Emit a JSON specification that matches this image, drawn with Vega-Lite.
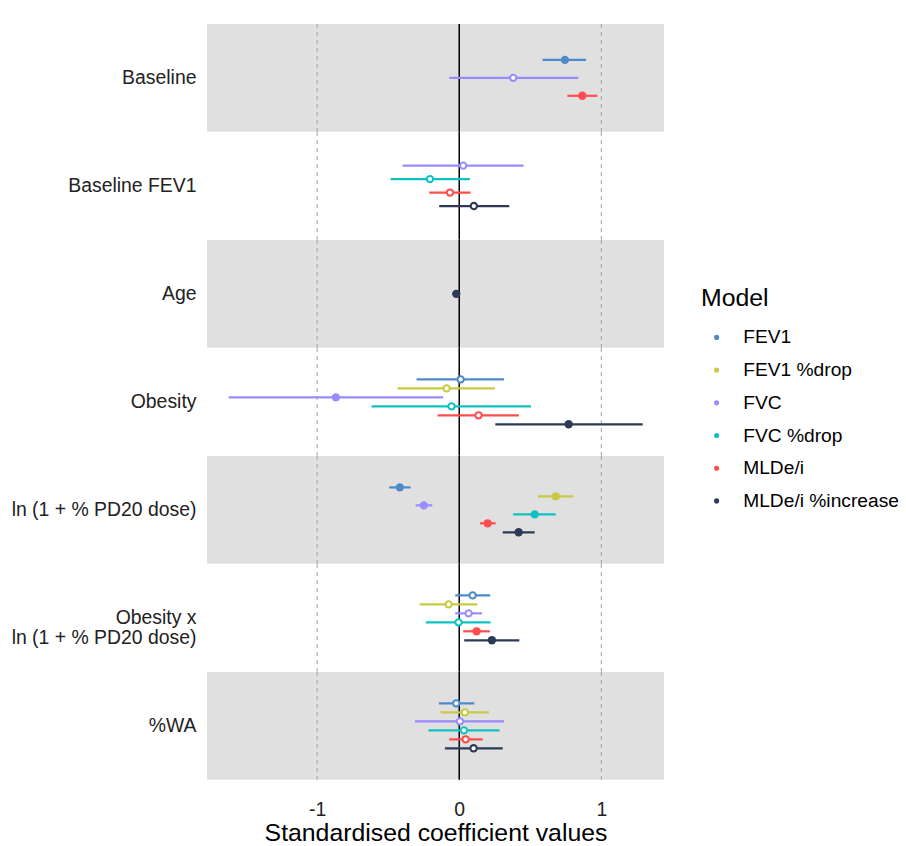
{
  "$schema": "https://vega.github.io/schema/vega-lite/v6.json",
  "padding": {"left": 11, "top": 23, "right": 242, "bottom": 0},
  "background": "white",
  "spacing": 0,
  "bounds": "flush",
  "resolve": {"scale": {"x": "shared", "y": "independent", "color": "shared", "stroke": "shared"}, "axis": {"x": "independent", "y": "independent"}, "legend": {"color": "independent"}},
  "datasets": {
    "refs": [{"ref": -1}, {"ref": 1}],
    "zero": [{"ref": 0}],
    "coef": [
      {"term": "Baseline", "model": "FEV1", "est": 0.744, "lo": 0.587, "hi": 0.892},
      {"term": "Baseline", "model": "FVC", "est": 0.380, "lo": -0.070, "hi": 0.838},
      {"term": "Baseline", "model": "MLDe/i", "est": 0.866, "lo": 0.761, "hi": 0.972},
      {"term": "Baseline FEV1", "model": "FVC", "est": 0.028, "lo": -0.399, "hi": 0.453},
      {"term": "Baseline FEV1", "model": "FVC %drop", "est": -0.206, "lo": -0.483, "hi": 0.075},
      {"term": "Baseline FEV1", "model": "MLDe/i", "est": -0.065, "lo": -0.211, "hi": 0.080},
      {"term": "Baseline FEV1", "model": "MLDe/i %increase", "est": 0.103, "lo": -0.141, "hi": 0.352},
      {"term": "Age", "model": "MLDe/i %increase", "est": -0.021, "lo": -0.030, "hi": -0.012},
      {"term": "Obesity", "model": "FEV1", "est": 0.010, "lo": -0.300, "hi": 0.315},
      {"term": "Obesity", "model": "FEV1 %drop", "est": -0.089, "lo": -0.434, "hi": 0.251},
      {"term": "Obesity", "model": "FVC", "est": -0.868, "lo": -1.622, "hi": -0.113},
      {"term": "Obesity", "model": "FVC %drop", "est": -0.054, "lo": -0.617, "hi": 0.505},
      {"term": "Obesity", "model": "MLDe/i", "est": 0.136, "lo": -0.152, "hi": 0.420},
      {"term": "Obesity", "model": "MLDe/i %increase", "est": 0.770, "lo": 0.254, "hi": 1.291},
      {"term": "ln (1 + % PD20 dose)", "model": "FEV1", "est": -0.418, "lo": -0.493, "hi": -0.343},
      {"term": "ln (1 + % PD20 dose)", "model": "FEV1 %drop", "est": 0.679, "lo": 0.554, "hi": 0.803},
      {"term": "ln (1 + % PD20 dose)", "model": "FVC", "est": -0.249, "lo": -0.307, "hi": -0.190},
      {"term": "ln (1 + % PD20 dose)", "model": "FVC %drop", "est": 0.531, "lo": 0.380, "hi": 0.679},
      {"term": "ln (1 + % PD20 dose)", "model": "MLDe/i", "est": 0.200, "lo": 0.146, "hi": 0.256},
      {"term": "ln (1 + % PD20 dose)", "model": "MLDe/i %increase", "est": 0.418, "lo": 0.306, "hi": 0.531},
      {"term": "Obesity x ln (1 + % PD20 dose)", "model": "FEV1", "est": 0.094, "lo": -0.028, "hi": 0.218},
      {"term": "Obesity x ln (1 + % PD20 dose)", "model": "FEV1 %drop", "est": -0.075, "lo": -0.279, "hi": 0.127},
      {"term": "Obesity x ln (1 + % PD20 dose)", "model": "FVC", "est": 0.066, "lo": -0.028, "hi": 0.160},
      {"term": "Obesity x ln (1 + % PD20 dose)", "model": "FVC %drop", "est": -0.005, "lo": -0.235, "hi": 0.221},
      {"term": "Obesity x ln (1 + % PD20 dose)", "model": "MLDe/i", "est": 0.122, "lo": 0.028, "hi": 0.216},
      {"term": "Obesity x ln (1 + % PD20 dose)", "model": "MLDe/i %increase", "est": 0.230, "lo": 0.035, "hi": 0.423},
      {"term": "%WA", "model": "FEV1", "est": -0.021, "lo": -0.143, "hi": 0.106},
      {"term": "%WA", "model": "FEV1 %drop", "est": 0.040, "lo": -0.131, "hi": 0.209},
      {"term": "%WA", "model": "FVC", "est": 0.005, "lo": -0.312, "hi": 0.315},
      {"term": "%WA", "model": "FVC %drop", "est": 0.033, "lo": -0.216, "hi": 0.284},
      {"term": "%WA", "model": "MLDe/i", "est": 0.045, "lo": -0.070, "hi": 0.165},
      {"term": "%WA", "model": "MLDe/i %increase", "est": 0.101, "lo": -0.101, "hi": 0.306}
    ]
  },
  "vconcat": [
    {
      "width": 457, "height": 107.7,
      "view": {"fill": "#e0e0e0", "stroke": null},
      "layer": [
        {"data": {"name": "refs"}, "mark": {"type": "rule", "color": "#a0a0a0", "strokeDash": [4, 4], "strokeWidth": 1}, "encoding": {"x": {"field": "ref", "type": "quantitative", "scale": {"domain": [-1.775, 1.441], "nice": false, "zero": false}, "axis": null}}},
        {"data": {"name": "zero"}, "mark": {"type": "rule", "color": "black", "strokeWidth": 1.5}, "encoding": {"x": {"field": "ref", "type": "quantitative", "axis": null}}},
        {"data": {"name": "coef"}, "transform": [{"filter": "datum.term === 'Baseline'"}],
         "encoding": {"y": {"field": "model", "type": "nominal", "scale": {"type": "band", "paddingInner": 0, "paddingOuter": 0, "range": [26.925, 80.775]}, "axis": {"title": "Baseline"}}},
         "layer": [
          {"mark": {"type": "rule", "strokeWidth": 2.2}, "encoding": {"x": {"field": "lo", "type": "quantitative", "axis": null}, "x2": {"field": "hi"}, "stroke": {"field": "model", "type": "nominal", "scale": {"domain": ["FEV1", "FEV1 %drop", "FVC", "FVC %drop", "MLDe/i", "MLDe/i %increase"], "range": ["#4f8ac8", "#c9c943", "#998cff", "#0fc2c2", "#ff4d4d", "#2c3a57"]}, "legend": null}}},
          {"mark": {"type": "point", "filled": true, "size": 70, "opacity": 1}, "encoding": {"x": {"field": "est", "type": "quantitative", "axis": null}, "color": {"field": "model", "type": "nominal", "scale": {"domain": ["FEV1", "FEV1 %drop", "FVC", "FVC %drop", "MLDe/i", "MLDe/i %increase"], "range": ["#4f8ac8", "#c9c943", "#998cff", "#0fc2c2", "#ff4d4d", "#2c3a57"]}, "legend": null}}},
          {"transform": [{"filter": "!(datum.lo > 0 || datum.hi < 0)"}], "mark": {"type": "point", "filled": true, "size": 18, "color": "white", "opacity": 1}, "encoding": {"x": {"field": "est", "type": "quantitative", "axis": null}}}
         ]}
      ]
    },
    {
      "width": 457, "height": 107.7,
      "view": {"fill": "white", "stroke": null},
      "layer": [
        {"data": {"name": "refs"}, "mark": {"type": "rule", "color": "#a0a0a0", "strokeDash": [4, 4], "strokeWidth": 1}, "encoding": {"x": {"field": "ref", "type": "quantitative", "scale": {"domain": [-1.775, 1.441], "nice": false, "zero": false}, "axis": null}}},
        {"data": {"name": "zero"}, "mark": {"type": "rule", "color": "black", "strokeWidth": 1.5}, "encoding": {"x": {"field": "ref", "type": "quantitative", "axis": null}}},
        {"data": {"name": "coef"}, "transform": [{"filter": "datum.term === 'Baseline FEV1'"}],
         "encoding": {"y": {"field": "model", "type": "nominal", "scale": {"type": "band", "paddingInner": 0, "paddingOuter": 0, "range": [26.925, 80.775]}, "axis": {"title": "Baseline FEV1"}}},
         "layer": [
          {"mark": {"type": "rule", "strokeWidth": 2.2}, "encoding": {"x": {"field": "lo", "type": "quantitative", "axis": null}, "x2": {"field": "hi"}, "stroke": {"field": "model", "type": "nominal", "legend": null}}},
          {"mark": {"type": "point", "filled": true, "size": 70, "opacity": 1}, "encoding": {"x": {"field": "est", "type": "quantitative", "axis": null}, "color": {"field": "model", "type": "nominal", "legend": null}}},
          {"transform": [{"filter": "!(datum.lo > 0 || datum.hi < 0)"}], "mark": {"type": "point", "filled": true, "size": 18, "color": "white", "opacity": 1}, "encoding": {"x": {"field": "est", "type": "quantitative", "axis": null}}}
         ]}
      ]
    },
    {
      "width": 457, "height": 107.7,
      "view": {"fill": "#e0e0e0", "stroke": null},
      "layer": [
        {"data": {"name": "refs"}, "mark": {"type": "rule", "color": "#a0a0a0", "strokeDash": [4, 4], "strokeWidth": 1}, "encoding": {"x": {"field": "ref", "type": "quantitative", "scale": {"domain": [-1.775, 1.441], "nice": false, "zero": false}, "axis": null}}},
        {"data": {"name": "zero"}, "mark": {"type": "rule", "color": "black", "strokeWidth": 1.5}, "encoding": {"x": {"field": "ref", "type": "quantitative", "axis": null}}},
        {"data": {"name": "coef"}, "transform": [{"filter": "datum.term === 'Age'"}],
         "encoding": {"y": {"field": "model", "type": "nominal", "scale": {"type": "band", "paddingInner": 0, "paddingOuter": 0, "range": [26.925, 80.775]}, "axis": {"title": "Age"}}},
         "layer": [
          {"mark": {"type": "rule", "strokeWidth": 2.2}, "encoding": {"x": {"field": "lo", "type": "quantitative", "axis": null}, "x2": {"field": "hi"}, "stroke": {"field": "model", "type": "nominal", "legend": null}}},
          {"mark": {"type": "point", "filled": true, "size": 70, "opacity": 1}, "encoding": {"x": {"field": "est", "type": "quantitative", "axis": null}, "color": {"field": "model", "type": "nominal", "legend": null}}},
          {"transform": [{"filter": "!(datum.lo > 0 || datum.hi < 0)"}], "mark": {"type": "point", "filled": true, "size": 18, "color": "white", "opacity": 1}, "encoding": {"x": {"field": "est", "type": "quantitative", "axis": null}}}
         ]}
      ]
    },
    {
      "width": 457, "height": 107.7,
      "view": {"fill": "white", "stroke": null},
      "layer": [
        {"data": {"name": "refs"}, "mark": {"type": "rule", "color": "#a0a0a0", "strokeDash": [4, 4], "strokeWidth": 1}, "encoding": {"x": {"field": "ref", "type": "quantitative", "scale": {"domain": [-1.775, 1.441], "nice": false, "zero": false}, "axis": null}}},
        {"data": {"name": "zero"}, "mark": {"type": "rule", "color": "black", "strokeWidth": 1.5}, "encoding": {"x": {"field": "ref", "type": "quantitative", "axis": null}}},
        {"data": {"name": "coef"}, "transform": [{"filter": "datum.term === 'Obesity'"}],
         "encoding": {"y": {"field": "model", "type": "nominal", "scale": {"type": "band", "paddingInner": 0, "paddingOuter": 0, "range": [26.925, 80.775]}, "axis": {"title": "Obesity"}}},
         "layer": [
          {"mark": {"type": "rule", "strokeWidth": 2.2}, "encoding": {"x": {"field": "lo", "type": "quantitative", "axis": null}, "x2": {"field": "hi"}, "stroke": {"field": "model", "type": "nominal", "legend": null}}},
          {"mark": {"type": "point", "filled": true, "size": 70, "opacity": 1}, "encoding": {"x": {"field": "est", "type": "quantitative", "axis": null}, "color": {"field": "model", "type": "nominal", "title": "Model", "legend": {"orient": "none", "legendX": 494, "legendY": -62}}}},
          {"transform": [{"filter": "!(datum.lo > 0 || datum.hi < 0)"}], "mark": {"type": "point", "filled": true, "size": 18, "color": "white", "opacity": 1}, "encoding": {"x": {"field": "est", "type": "quantitative", "axis": null}}}
         ]}
      ]
    },
    {
      "width": 457, "height": 107.7,
      "view": {"fill": "#e0e0e0", "stroke": null},
      "layer": [
        {"data": {"name": "refs"}, "mark": {"type": "rule", "color": "#a0a0a0", "strokeDash": [4, 4], "strokeWidth": 1}, "encoding": {"x": {"field": "ref", "type": "quantitative", "scale": {"domain": [-1.775, 1.441], "nice": false, "zero": false}, "axis": null}}},
        {"data": {"name": "zero"}, "mark": {"type": "rule", "color": "black", "strokeWidth": 1.5}, "encoding": {"x": {"field": "ref", "type": "quantitative", "axis": null}}},
        {"data": {"name": "coef"}, "transform": [{"filter": "datum.term === 'ln (1 + % PD20 dose)'"}],
         "encoding": {"y": {"field": "model", "type": "nominal", "scale": {"type": "band", "paddingInner": 0, "paddingOuter": 0, "range": [26.925, 80.775]}, "axis": {"title": "ln (1 + % PD20 dose)"}}},
         "layer": [
          {"mark": {"type": "rule", "strokeWidth": 2.2}, "encoding": {"x": {"field": "lo", "type": "quantitative", "axis": null}, "x2": {"field": "hi"}, "stroke": {"field": "model", "type": "nominal", "legend": null}}},
          {"mark": {"type": "point", "filled": true, "size": 70, "opacity": 1}, "encoding": {"x": {"field": "est", "type": "quantitative", "axis": null}, "color": {"field": "model", "type": "nominal", "legend": null}}},
          {"transform": [{"filter": "!(datum.lo > 0 || datum.hi < 0)"}], "mark": {"type": "point", "filled": true, "size": 18, "color": "white", "opacity": 1}, "encoding": {"x": {"field": "est", "type": "quantitative", "axis": null}}}
         ]}
      ]
    },
    {
      "width": 457, "height": 107.7,
      "view": {"fill": "white", "stroke": null},
      "layer": [
        {"data": {"name": "refs"}, "mark": {"type": "rule", "color": "#a0a0a0", "strokeDash": [4, 4], "strokeWidth": 1}, "encoding": {"x": {"field": "ref", "type": "quantitative", "scale": {"domain": [-1.775, 1.441], "nice": false, "zero": false}, "axis": null}}},
        {"data": {"name": "zero"}, "mark": {"type": "rule", "color": "black", "strokeWidth": 1.5}, "encoding": {"x": {"field": "ref", "type": "quantitative", "axis": null}}},
        {"data": {"name": "coef"}, "transform": [{"filter": "datum.term === 'Obesity x ln (1 + % PD20 dose)'"}],
         "encoding": {"y": {"field": "model", "type": "nominal", "scale": {"type": "band", "paddingInner": 0, "paddingOuter": 0, "range": [26.925, 80.775]}, "axis": {"title": ["Obesity x", "ln (1 + % PD20 dose)"]}}},
         "layer": [
          {"mark": {"type": "rule", "strokeWidth": 2.2}, "encoding": {"x": {"field": "lo", "type": "quantitative", "axis": null}, "x2": {"field": "hi"}, "stroke": {"field": "model", "type": "nominal", "legend": null}}},
          {"mark": {"type": "point", "filled": true, "size": 70, "opacity": 1}, "encoding": {"x": {"field": "est", "type": "quantitative", "axis": null}, "color": {"field": "model", "type": "nominal", "legend": null}}},
          {"transform": [{"filter": "!(datum.lo > 0 || datum.hi < 0)"}], "mark": {"type": "point", "filled": true, "size": 18, "color": "white", "opacity": 1}, "encoding": {"x": {"field": "est", "type": "quantitative", "axis": null}}}
         ]}
      ]
    },
    {
      "width": 457, "height": 107.7,
      "view": {"fill": "#e0e0e0", "stroke": null},
      "layer": [
        {"data": {"name": "refs"}, "mark": {"type": "rule", "color": "#a0a0a0", "strokeDash": [4, 4], "strokeWidth": 1}, "encoding": {"x": {"field": "ref", "type": "quantitative", "scale": {"domain": [-1.775, 1.441], "nice": false, "zero": false}, "axis": {"title": "Standardised coefficient values", "values": [-1, 0, 1]}}}},
        {"data": {"name": "zero"}, "mark": {"type": "rule", "color": "black", "strokeWidth": 1.5}, "encoding": {"x": {"field": "ref", "type": "quantitative", "axis": {"title": "Standardised coefficient values", "values": [-1, 0, 1]}}}},
        {"data": {"name": "coef"}, "transform": [{"filter": "datum.term === '%WA'"}],
         "encoding": {"y": {"field": "model", "type": "nominal", "scale": {"type": "band", "paddingInner": 0, "paddingOuter": 0, "range": [26.925, 80.775]}, "axis": {"title": "%WA"}}},
         "layer": [
          {"mark": {"type": "rule", "strokeWidth": 2.2}, "encoding": {"x": {"field": "lo", "type": "quantitative", "axis": {"title": "Standardised coefficient values", "values": [-1, 0, 1]}}, "x2": {"field": "hi"}, "stroke": {"field": "model", "type": "nominal", "legend": null}}},
          {"mark": {"type": "point", "filled": true, "size": 70, "opacity": 1}, "encoding": {"x": {"field": "est", "type": "quantitative", "axis": {"title": "Standardised coefficient values", "values": [-1, 0, 1]}}, "color": {"field": "model", "type": "nominal", "legend": null}}},
          {"transform": [{"filter": "!(datum.lo > 0 || datum.hi < 0)"}], "mark": {"type": "point", "filled": true, "size": 18, "color": "white", "opacity": 1}, "encoding": {"x": {"field": "est", "type": "quantitative", "axis": {"title": "Standardised coefficient values", "values": [-1, 0, 1]}}}}
         ]}
      ]
    }
  ],
  "config": {
    "font": "Liberation Sans",
    "view": {"stroke": null},
    "axisX": {"ticks": false, "domain": false, "grid": false, "labelFontSize": 19.4, "labelColor": "#222222", "labelPadding": 21, "labelExpr": "datum.value + ''", "titleFontSize": 24.8, "titleFontWeight": "normal", "titleColor": "black", "titlePadding": 1},
    "axisY": {"labels": false, "ticks": false, "domain": false, "grid": false, "titleAngle": 0, "titleAlign": "right", "titleBaseline": "middle", "titleX": -11, "titleY": 53.85, "titleFontSize": 19.4, "titleFontWeight": "normal", "titleColor": "#222222", "titleLineHeight": 20},
    "legend": {"titleFontSize": 24.8, "titleFontWeight": "normal", "titleColor": "black", "labelFontSize": 19.2, "labelColor": "black", "symbolSize": 26, "symbolType": "circle", "symbolStrokeWidth": 0, "rowPadding": 12.7, "titlePadding": 17, "symbolOffset": 6, "labelOffset": 17}
  }
}
